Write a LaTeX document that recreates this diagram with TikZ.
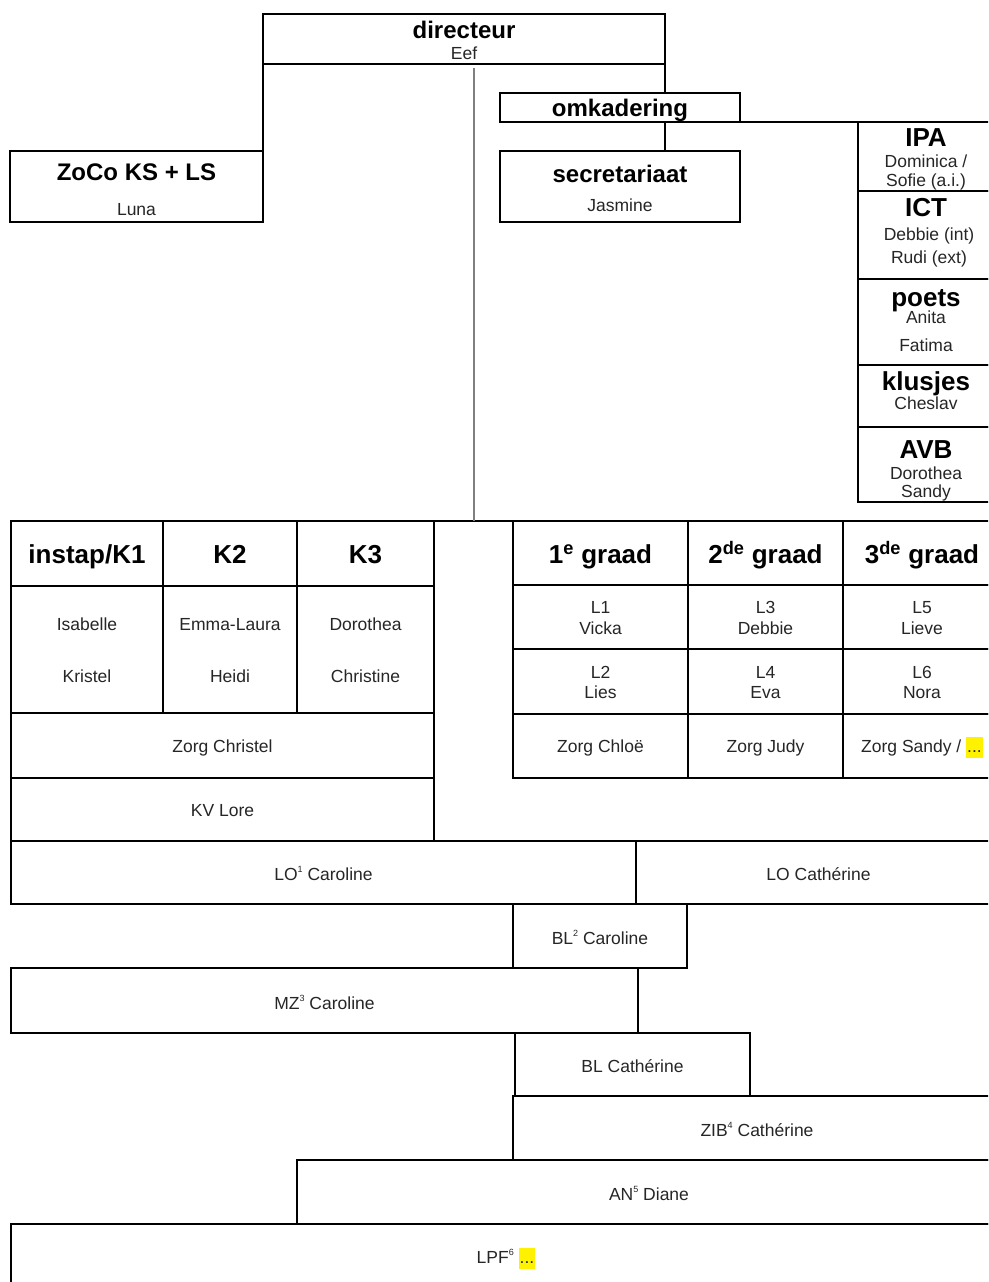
\documentclass[tikz,border=0pt]{standalone}
\usepackage{fontspec}
\setmainfont{Liberation Sans}
\newcommand\orgbox[5]{\node[box,anchor=north west,minimum width=#4pt,minimum height=#5pt] (#1) at (#2,#3) {};}
\newcommand\hlt[1]{{\setlength{\fboxsep}{0pt}\colorbox{yellow}{\rule[-0.3em]{0pt}{1.15em}\hspace{1pt}#1\hspace{1pt}}}}
\newcommand\sups[1]{\raisebox{0.42em}{\fontsize{9}{9}\selectfont #1}}
\begin{document}
\begin{tikzpicture}[x=1pt,y=-1pt,
  box/.style={draw=black,line width=1.3pt,inner sep=0pt,outer sep=0pt},
  conn/.style={draw=black,line width=1.3pt},
  gconn/.style={draw=black!50,line width=2.4pt},
  hd/.style={font=\fontsize{26}{28}\selectfont\bfseries,inner sep=0pt,text height=18.6pt,text depth=0pt,anchor=center},
  hds/.style={font=\fontsize{24}{26}\selectfont\bfseries,inner sep=0pt,text height=17.2pt,text depth=0pt,anchor=center},
  nm/.style={font=\fontsize{17.5}{20}\selectfont,text=black!85,inner sep=0pt,text height=12.5pt,text depth=0pt,anchor=center}]
\clip (0,0) rectangle (988,1282);
\fill[white] (0,0) rectangle (988,1282);
% top boxes
\orgbox{dir}{263}{14}{402}{50}
\orgbox{zoco}{10}{151}{253}{71}
\orgbox{omk}{500}{93}{240}{29}
\orgbox{sec}{500}{151}{240}{71}
\orgbox{ipa}{858}{122}{143}{69}
\orgbox{ict}{858}{191}{143}{88}
\orgbox{poets}{858}{279}{143}{86}
\orgbox{klus}{858}{365}{143}{62}
\orgbox{avb}{858}{427}{143}{75}
% left table
\orgbox{khA}{11}{521}{152}{65}
\orgbox{khB}{163}{521}{134}{65}
\orgbox{khC}{297}{521}{137}{65}
\orgbox{knA}{11}{586}{152}{127}
\orgbox{knB}{163}{586}{134}{127}
\orgbox{knC}{297}{586}{137}{127}
\orgbox{zc}{11}{713}{423}{65}
\orgbox{kv}{11}{778}{423}{63}
% right table
\orgbox{ghA}{513}{521}{175}{64}
\orgbox{ghB}{688}{521}{155}{64}
\orgbox{ghC}{843}{521}{158}{64}
\orgbox{lA}{513}{585}{175}{64}
\orgbox{lB}{688}{585}{155}{64}
\orgbox{lC}{843}{585}{158}{64}
\orgbox{mA}{513}{649}{175}{65}
\orgbox{mB}{688}{649}{155}{65}
\orgbox{mC}{843}{649}{158}{65}
\orgbox{zA}{513}{714}{175}{64}
\orgbox{zB}{688}{714}{155}{64}
\orgbox{zC}{843}{714}{158}{64}
% lower bars
\orgbox{loA}{11}{841}{625}{63}
\orgbox{loB}{636}{841}{365}{63}
\orgbox{blA}{513}{904}{174}{64}
\orgbox{mz}{11}{968}{627}{65}
\orgbox{blB}{515}{1033}{235}{63}
\orgbox{zib}{513}{1096}{488}{64}
\orgbox{an}{297}{1160}{704}{64}
\orgbox{lpf}{11}{1224}{990}{70}
% connectors
\draw[conn] (dir.south west) -- (zoco.north east);
\draw[conn] (dir.south east) -- (dir.south east |- omk.north);
\draw[conn] (dir.south east |- omk.south) -- (dir.south east |- sec.north);
\draw[conn] (omk.south east) -- (ipa.north west);
\draw[conn] (khC.north east) -- (ghA.north west);
\coordinate (gtop) at (474,68);
\draw[gconn] (gtop) -- (gtop |- khC.north);
% texts top
\node[hds] (tdir) at (464,30) {directeur};
\node[nm] (tdir2) at (464,53) {Eef};
\node[hds] (tzoco) at (136.5,172) {ZoCo KS + LS};
\node[nm] (tzoco2) at (136.5,209) {Luna};
\node[hds] (tomk) at (620,108) {omkadering};
\node[hds] (tsec) at (620,174) {secretariaat};
\node[nm] (tsec2) at (620,205) {Jasmine};
\node[hd] (tipa) at (926,137) {IPA};
\node[nm] (tipa2) at (926,161) {Dominica /};
\node[nm] (tipa3) at (926,180) {Sofie (a.i.)};
\node[hd] (tict) at (926,207) {ICT};
\node[nm] (tict2) at (929,234) {Debbie (int)};
\node[nm] (tict3) at (929,257) {Rudi (ext)};
\node[hd] (tpoets) at (926,297) {poets};
\node[nm] (tpoets2) at (926,317) {Anita};
\node[nm] (tpoets3) at (926,345) {Fatima};
\node[hd] (tklus) at (926,381) {klusjes};
\node[nm] (tklus2) at (926,403) {Cheslav};
\node[hd] (tavb) at (926,449) {AVB};
\node[nm] (tavb2) at (926,473) {Dorothea};
\node[nm] (tavb3) at (926,491) {Sandy};
% left table texts
\node[hd] (tkA) at (87,554) {instap/K1};
\node[hd] (tkB) at (230,554) {K2};
\node[hd] (tkC) at (365.5,554) {K3};
\node[nm] (tnA1) at (87,624) {Isabelle};
\node[nm] (tnA2) at (87,676) {Kristel};
\node[nm] (tnB1) at (230,624) {Emma-Laura};
\node[nm] (tnB2) at (230,676) {Heidi};
\node[nm] (tnC1) at (365.5,624) {Dorothea};
\node[nm] (tnC2) at (365.5,676) {Christine};
\node[nm] (tzc) at (222.5,746) {Zorg Christel};
\node[nm] (tkv) at (222.5,810) {KV Lore};
% right table texts
\node[hd] (tgA) at (600.5,554) {1\textsuperscript{e} graad};
\node[hd] (tgB) at (765.5,554) {2\textsuperscript{de} graad};
\node[hd] (tgC) at (922,554) {3\textsuperscript{de} graad};
\node[nm] (tlA1) at (600.5,607) {L1};
\node[nm] (tlA2) at (600.5,628) {Vicka};
\node[nm] (tlB1) at (765.5,607) {L3};
\node[nm] (tlB2) at (765.5,628) {Debbie};
\node[nm] (tlC1) at (922,607) {L5};
\node[nm] (tlC2) at (922,628) {Lieve};
\node[nm] (tmA1) at (600.5,672) {L2};
\node[nm] (tmA2) at (600.5,692) {Lies};
\node[nm] (tmB1) at (765.5,672) {L4};
\node[nm] (tmB2) at (765.5,692) {Eva};
\node[nm] (tmC1) at (922,672) {L6};
\node[nm] (tmC2) at (922,692) {Nora};
\node[nm] (tzA) at (600.5,746) {Zorg Chloë};
\node[nm] (tzB) at (765.5,746) {Zorg Judy};
\node[nm] (tzC) at (922,746) {Zorg Sandy / \hlt{...}};
% lower texts
\node[nm] (tloA) at (323.5,874) {LO\sups{1} Caroline};
\node[nm] (tloB) at (818.5,874) {LO Cathérine};
\node[nm] (tblA) at (600,938) {BL\sups{2} Caroline};
\node[nm] (tmz) at (324.5,1003) {MZ\sups{3} Caroline};
\node[nm] (tblB) at (632.5,1066) {BL Cathérine};
\node[nm] (tzib) at (757,1130) {ZIB\sups{4} Cathérine};
\node[nm] (tan) at (649,1194) {AN\sups{5} Diane};
\node[nm] (tlpf) at (506,1257) {LPF\sups{6} \hlt{...}};
\end{tikzpicture}
\end{document}
